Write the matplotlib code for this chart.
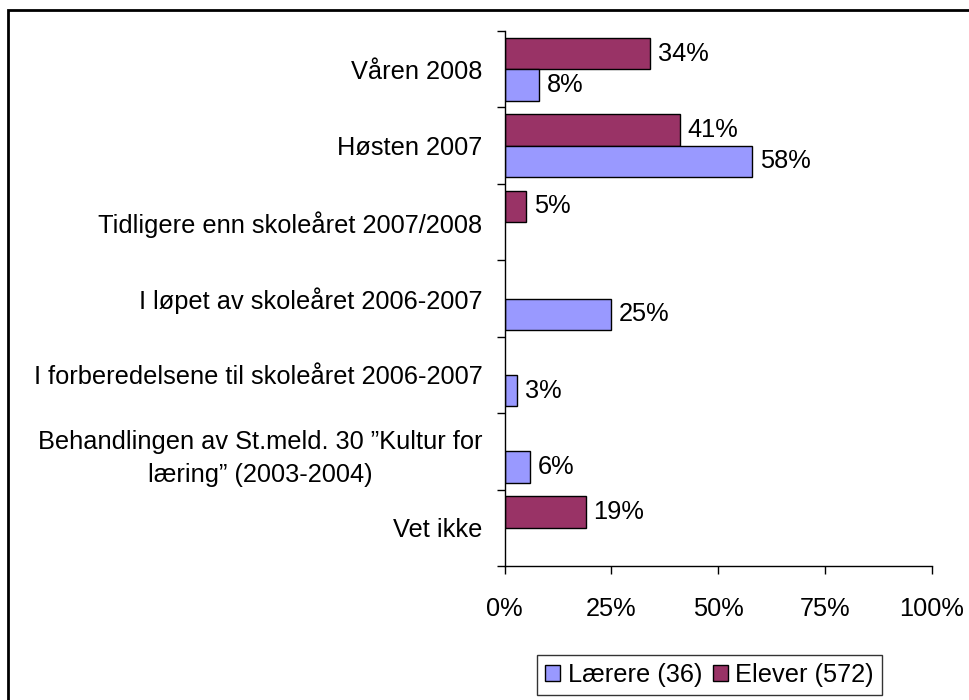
import numpy as np
import matplotlib
import matplotlib.pyplot as plt
from matplotlib.patches import Rectangle, Patch

matplotlib.use("Agg")

plt.rcParams["font.family"] = ["Liberation Sans", "DejaVu Sans"]

# Chart data (percent), None = no bar
categories = [
    "Våren 2008",
    "Høsten 2007",
    "Tidligere enn skoleåret 2007/2008",
    "I løpet av skoleåret 2006-2007",
    "I forberedelsene til skoleåret 2006-2007",
    "Behandlingen av St.meld. 30 ”Kultur for\nlæring” (2003-2004)",
    "Vet ikke",
]
elever = [34, 41, 5, None, None, None, 19]
laerere = [8, 58, None, 25, 3, 6, None]
series_names = ["Lærere (36)", "Elever (572)"]
x_ticks = [0, 25, 50, 75, 100]

col_laerere = "#9999FF"
col_elever = "#993366"
fs = 18.3

fig = plt.figure(figsize=(9.69, 7.0), dpi=100)
ax = fig.add_axes([504.5 / 969, 1 - 566 / 700, (932 - 504.5) / 969, (566 - 31) / 700])

y = np.arange(len(categories))
h = 0.41


def draw(vals, offset, color):
    for yi, v in zip(y, vals):
        if v is None:
            continue
        ax.barh(yi + offset, v, height=h, color=color, edgecolor="black", linewidth=1.0)
        ax.text(v + 1.8, yi + offset, f"{v}%", va="center", ha="left", fontsize=fs)


draw(elever, -h / 2, col_elever)
draw(laerere, h / 2, col_laerere)

ax.set_xlim(0, 100)
ax.set_ylim(len(categories) - 0.5, -0.5)

ax.set_xticks(x_ticks)
ax.set_xticklabels([f"{t}%" for t in x_ticks], fontsize=fs)
ax.tick_params(axis="x", direction="out", length=6, width=1, pad=16)

ax.set_yticks(y)
ax.set_yticklabels(categories, fontsize=fs, multialignment="center", linespacing=1.5)
ax.tick_params(axis="y", which="major", length=0, pad=16)
ax.set_yticks(np.arange(len(categories) + 1) - 0.5, minor=True)
ax.tick_params(axis="y", which="minor", direction="out", length=6, width=1)

for s in ["top", "right"]:
    ax.spines[s].set_visible(False)
for s in ["left", "bottom"]:
    ax.spines[s].set_linewidth(1)

handles = [
    Patch(facecolor=col_laerere, edgecolor="black", linewidth=1.0),
    Patch(facecolor=col_elever, edgecolor="black", linewidth=1.0),
]
leg = fig.legend(handles, series_names, loc="center", bbox_to_anchor=(709.5 / 969, 1 - 675 / 700),
                 ncol=2, fontsize=fs, frameon=True, fancybox=False, edgecolor="black",
                 handlelength=0.6, handleheight=0.6, handletextpad=0.3, columnspacing=0.4,
                 borderpad=0.3, borderaxespad=0)
leg.get_frame().set_linewidth(1.0)

# outer frame
fig.patches.append(Rectangle((8 / 969, -0.05), 1.2, 1 - 10 / 700 + 0.05, transform=fig.transFigure,
                             fill=False, edgecolor="black", linewidth=2))

fig.savefig("out.png", dpi=100)
